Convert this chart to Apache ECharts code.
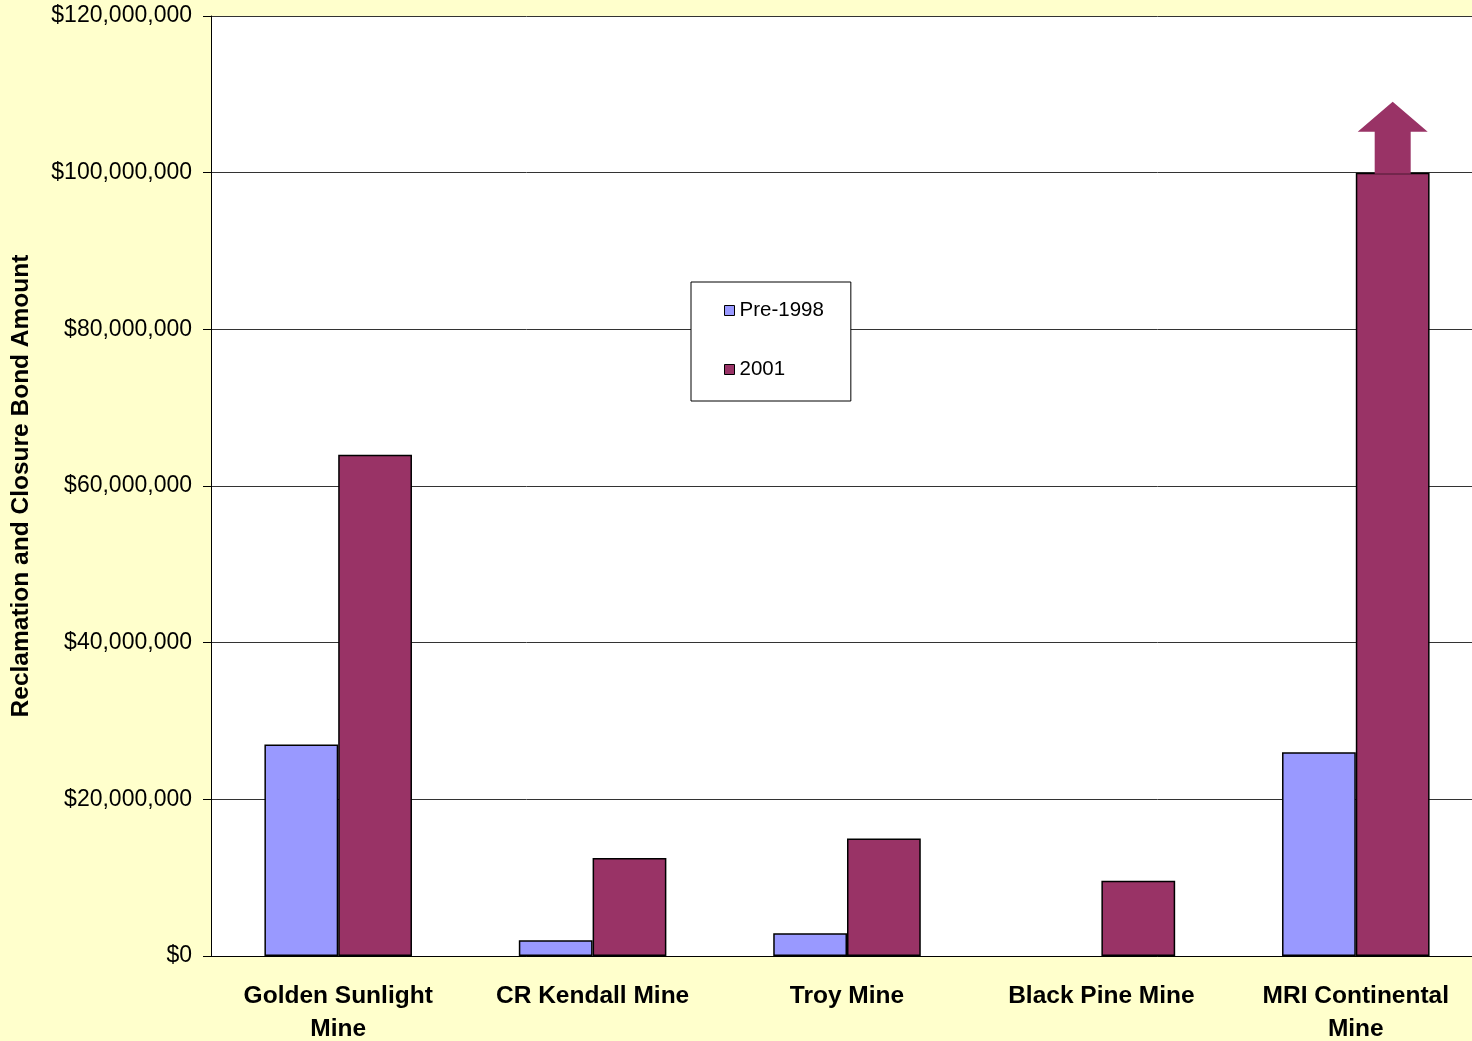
<!DOCTYPE html>
<html>
<head>
<meta charset="utf-8">
<script src="https://cdn.jsdelivr.net/npm/echarts@6/dist/echarts.min.js"></script>
<style>
  html, body { margin: 0; padding: 0; background: #FFFFCC; }
  #chart { width: 1472px; height: 1041px; }
</style>
</head>
<body>
<div id="chart"></div>
<script>
// mines on the x axis
const mines = ['Golden Sunlight\nMine', 'CR Kendall Mine', 'Troy Mine', 'Black Pine Mine', 'MRI Continental\nMine']
// bond amounts in dollars
const pre1998 = [27000000, 2000000, 2900000, null, 26000000]
const y2001 = [64000000, 12500000, 15000000, 9600000, 100000000]
const seriesNames = ['Pre-1998', '2001']

const font = 'Liberation Sans, Arial, sans-serif'

function money(v) {
  return '$' + String(v).replace(/\B(?=(\d{3})+(?!\d))/g, ',')
}

const chart = echarts.init(document.getElementById('chart'))
const option = {
  backgroundColor: '#FFFFCC',
  textStyle: { fontFamily: font },
  animation: false,
  // legend box in the middle of the plot
  legend: {
    orient: 'vertical',
    left: 691,
    top: 282,
    padding: [18, 27, 21, 33],
    itemGap: 38,
    itemWidth: 10,
    itemHeight: 10,
    icon: 'rect',
    backgroundColor: '#fff',
    borderColor: '#000',
    borderWidth: 1,
    borderRadius: 0,
    itemStyle: { borderColor: '#000', borderWidth: 1 },
    textStyle: { fontSize: 20.5, color: '#000', lineHeight: 20, fontFamily: font },
    data: seriesNames
  },
  grid: {
    left: 211,
    top: 16,
    bottom: 85,
    right: -11,
    containLabel: false,
    outerBoundsMode: 'none',
    show: true,
    backgroundColor: '#fff',
    borderWidth: 0
  },
  xAxis: {
    type: 'category',
    data: mines,
    axisLine: { lineStyle: { color: '#000', width: 1 } },
    axisTick: { length: 8, lineStyle: { color: '#000' } },
    axisLabel: {
      interval: 0,
      margin: 24,
      fontSize: 24.5,
      fontWeight: 'bold',
      color: '#000',
      lineHeight: 33,
      fontFamily: font
    }
  },
  yAxis: {
    type: 'value',
    min: 0,
    max: 120000000,
    interval: 20000000,
    name: 'Reclamation and Closure Bond Amount',
    nameLocation: 'middle',
    nameGap: 177,
    nameTextStyle: { fontSize: 24.5, fontWeight: 'bold', color: '#000', fontFamily: font },
    axisLine: { show: true, lineStyle: { color: '#000', width: 1 } },
    axisTick: { show: true, length: 8, lineStyle: { color: '#000' } },
    axisLabel: {
      margin: 19,
      fontSize: 23,
      color: '#000',
      fontFamily: font,
      formatter: money
    },
    splitLine: { lineStyle: { color: '#333', width: 1 } }
  },
  series: [
    {
      name: seriesNames[0],
      type: 'bar',
      barGap: '0%',
      barCategoryGap: '42%',
      itemStyle: { color: '#9999FF', borderColor: '#000', borderWidth: 1.5 },
      data: pre1998
    },
    {
      name: seriesNames[1],
      type: 'bar',
      barGap: '0%',
      barCategoryGap: '42%',
      itemStyle: { color: '#993366', borderColor: '#000', borderWidth: 1.5 },
      data: y2001,
      // arrow showing the MRI value runs off the top
      markPoint: {
        silent: true,
        symbol: 'path://M35,0 L70,30 L53,30 L53,72 L17,72 L17,30 L0,30 Z',
        symbolSize: [70, 72],
        symbolOffset: [0, -35],
        itemStyle: { color: '#993366', borderWidth: 0 },
        label: { show: false },
        data: [{ coord: [4, y2001[4]] }]
      }
    }
  ]
}
chart.setOption(option)
</script>
</body>
</html>
